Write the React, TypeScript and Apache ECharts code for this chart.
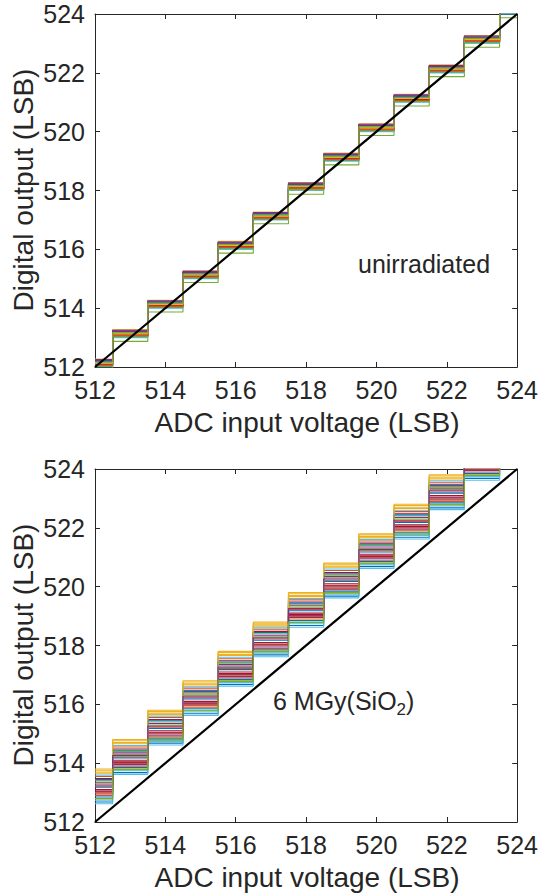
import React, { useEffect, useRef } from 'react';
import * as echarts from 'echarts';

// Input voltage points where the staircase changes code (LSB)
const xPoints = [512, 512.5, 513.5, 514.5, 515.5, 516.5, 517.5, 518.5, 519.5, 520.5, 521.5, 522.5, 523.5, 524];
// Ideal output code held from each point to the next
const codeAtPoint = [512, 513, 514, 515, 516, 517, 518, 519, 520, 521, 522, 523, 524, 524];
// Per-device offsets (LSB) of the measured output, unirradiated
const topOffsets = [0.02, 0.10, 0.24, 0.06, -0.13, 0.16, 0.12, 0.04, 0.20, 0.27, 0.08, 0.14, 0.00, 0.18,
  0.22, 0.05, 0.11, 0.25, 0.03, 0.15, 0.09, 0.19, 0.07, 0.13, 0.21, 0.17];
// Per-device offsets (LSB) of the measured output, 6 MGy(SiO2)
const bottomOffsets = [0.68, 1.22, 1.80, 0.95, 1.40, 0.62, 1.10, 0.85, 1.55, 1.76, 1.02, 1.30, 0.74, 1.48,
  1.18, 0.90, 1.66, 1.35, 0.78, 1.60, 1.05, 1.44, 0.99, 1.70, 1.26, 0.80];
// Ideal transfer line
const idealLine = [[512, 512], [524, 524]];
const axisMin = 512;
const axisMax = 524;
const axisStep = 2;

const colors = ['#0072BD', '#D95319', '#EDB120', '#7E2F8E', '#77AC30', '#4DBEEE', '#A2142F'];
const FONT = '"Liberation Sans", Arial, Helvetica, sans-serif';
const AX = '#262626';

export default function App() {
  const ref = useRef<HTMLDivElement>(null);
  useEffect(() => {
    if (!ref.current) return;
    const chart = echarts.init(ref.current, undefined, { renderer: 'svg' });

    const grids = [
      { left: 95, top: 14, width: 425, height: 353 },
      { left: 95, top: 469, width: 425, height: 353 },
    ];
    const lineStyle = { color: AX, width: 1 };
    const xAxes: any[] = [];
    const yAxes: any[] = [];
    grids.forEach((_, g) => {
      ['bottom', 'top'].forEach((pos) => {
        xAxes.push({
          gridIndex: g, type: 'value', position: pos, min: axisMin, max: axisMax, interval: axisStep,
          axisLine: { show: true, onZero: false, lineStyle },
          axisTick: { show: true, inside: true, length: 5, lineStyle },
          axisLabel: { show: pos === 'bottom', fontSize: 25, color: AX, fontFamily: FONT, margin: 10, showMinLabel: true, showMaxLabel: true },
          splitLine: { show: false },
        });
      });
      ['left', 'right'].forEach((pos) => {
        yAxes.push({
          gridIndex: g, type: 'value', position: pos, min: axisMin, max: axisMax, interval: axisStep,
          axisLine: { show: true, onZero: false, lineStyle },
          axisTick: { show: true, inside: true, length: 5, lineStyle },
          axisLabel: { show: pos === 'left', fontSize: 25, color: AX, fontFamily: FONT, margin: 10, showMinLabel: true, showMaxLabel: true },
          splitLine: { show: false },
        });
      });
    });

    const series: any[] = [];
    const addSteps = (offsets: number[], axisIdx: number) => {
      offsets.forEach((off, i) => {
        series.push({
          type: 'line', xAxisIndex: axisIdx, yAxisIndex: axisIdx, step: 'end', symbol: 'none', silent: true,
          clip: true,
          data: xPoints.map((x, k) => [x, codeAtPoint[k] + off]),
          lineStyle: { width: 1.1, color: colors[i % colors.length] },
        });
      });
      series.push({
        type: 'line', xAxisIndex: axisIdx, yAxisIndex: axisIdx, symbol: 'none', silent: true, clip: true, z: 10,
        data: idealLine, lineStyle: { width: 2.2, color: '#000000' },
      });
    };
    addSteps(topOffsets, 0);
    addSteps(bottomOffsets, 2);

    const textStyle = (text: string, size: number, extra: any = {}) => ({
      text, fontSize: size, fontFamily: FONT, fill: AX,
      align: 'center', verticalAlign: 'middle', textAlign: 'center', textVerticalAlign: 'middle', ...extra,
    });

    chart.setOption({
      animation: false,
      backgroundColor: '#ffffff',
      grid: grids,
      xAxis: xAxes,
      yAxis: yAxes,
      series,
      graphic: [
        { type: 'text', x: 307, y: 422, style: textStyle('ADC input voltage (LSB)', 28) },
        { type: 'text', x: 307, y: 877, style: textStyle('ADC input voltage (LSB)', 28) },
        { type: 'text', x: 23, y: 190, rotation: Math.PI / 2, style: textStyle('Digital output (LSB)', 28) },
        { type: 'text', x: 23, y: 645, rotation: Math.PI / 2, style: textStyle('Digital output (LSB)', 28) },
        { type: 'text', x: 358, y: 264, style: textStyle('unirradiated', 25, { align: 'left', textAlign: 'left' }) },
        {
          type: 'text', x: 273, y: 701,
          style: {
            text: '{a|6 MGy(SiO}{s|2}{a|)}',
            fill: AX, fontFamily: FONT, fontSize: 25,
            align: 'left', verticalAlign: 'middle', textAlign: 'left', textVerticalAlign: 'middle',
            rich: {
              a: { fontSize: 25, fontFamily: FONT, fill: AX, color: AX, lineHeight: 34 },
              s: { fontSize: 17, fontFamily: FONT, fill: AX, color: AX, lineHeight: 16, verticalAlign: 'bottom' },
            },
          },
        },
      ],
    });
    return () => chart.dispose();
  }, []);
  return (
    <div ref={ref} style={{ position: 'absolute', left: 0, top: 0, width: 541, height: 896, background: '#fff' }} />
  );
}
